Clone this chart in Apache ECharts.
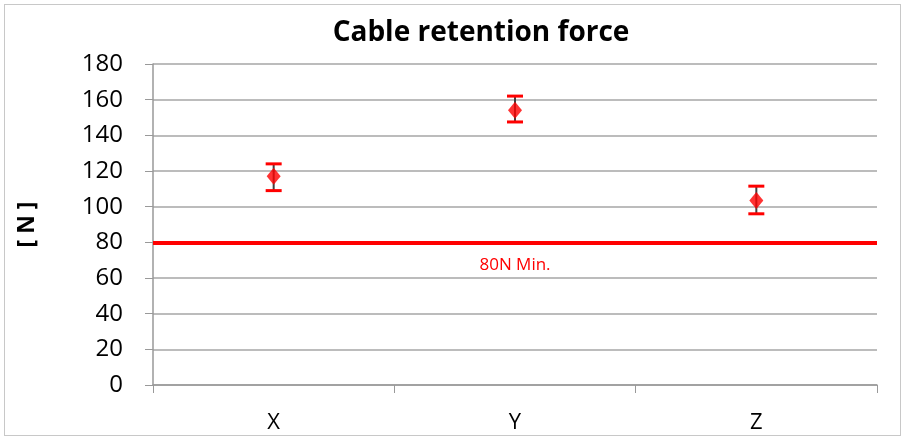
<!DOCTYPE html>
<html>
<head>
<meta charset="utf-8">
<script src="https://cdn.jsdelivr.net/npm/echarts@6/dist/echarts.min.js"></script>
<style>
  html, body { margin: 0; padding: 0; background: #fff; }
  #frame { position: absolute; left: 4px; top: 4px; width: 895px; height: 430px; border: 1px solid #c8c8c8; }
  #chart { width: 905px; height: 439px; }
</style>
</head>
<body>
<div id="frame"></div>
<div id="chart"></div>
<script>
// data
const categories = ['X', 'Y', 'Z'];
const meanForce = [117, 154, 103.5];
const lowForce = [109, 147.5, 96];
const highForce = [124, 162, 111.5];
const minForce = 80;

var dom = document.getElementById('chart');
var myChart = echarts.init(dom);

var errData = categories.map((c, i) => [i, lowForce[i], highForce[i]]);

var option = {
    animation: false,
    textStyle: { fontFamily: 'Open Sans' },
    title: {
        text: 'Cable retention force',
        left: 476,
        textAlign: 'center',
        top: 14,
        textStyle: { fontSize: 28, fontWeight: 'bold', color: '#000', fontFamily: 'Open Sans' }
    },
    grid: { left: 153, right: 28, top: 64, bottom: 54 },
    xAxis: {
        type: 'category',
        data: categories,
        boundaryGap: true,
        axisLine: { lineStyle: { color: '#999', width: 1.5 } },
        axisTick: { show: true, length: 8, lineStyle: { color: '#999' } },
        axisLabel: { color: '#000', fontSize: 22, margin: 27 }
    },
    yAxis: {
        type: 'value',
        min: 0,
        max: 180,
        interval: 20,
        name: '[ N ]',
        nameLocation: 'middle',
        nameGap: 114,
        nameTextStyle: { fontSize: 23, fontWeight: 'bold', color: '#000' },
        axisLine: { show: true, lineStyle: { color: '#999', width: 1.5 } },
        axisTick: { show: true, length: 8, lineStyle: { color: '#999' } },
        axisLabel: { color: '#000', fontSize: 24, margin: 30 },
        splitLine: { lineStyle: { color: '#a6a6a6', width: 1.5 } }
    },
    series: [
        {
            type: 'custom',
            data: errData,
            z: 3,
            renderItem: function (params, api) {
                var x = api.value(0);
                var lo = api.coord([x, api.value(1)]);
                var hi = api.coord([x, api.value(2)]);
                var w = 8;
                return {
                    type: 'group',
                    children: [
                        { type: 'line', shape: { x1: hi[0], y1: hi[1], x2: lo[0], y2: lo[1] }, style: { stroke: '#404040', lineWidth: 2 } },
                        { type: 'line', shape: { x1: hi[0] - w, y1: hi[1], x2: hi[0] + w, y2: hi[1] }, style: { stroke: '#ff0000', lineWidth: 3 } },
                        { type: 'line', shape: { x1: lo[0] - w, y1: lo[1], x2: lo[0] + w, y2: lo[1] }, style: { stroke: '#ff0000', lineWidth: 3 } }
                    ]
                };
            },
            markLine: {
                silent: true,
                symbol: 'none',
                lineStyle: { color: '#ff0000', width: 4, type: 'solid' },
                label: {
                    show: true,
                    position: 'insideMiddleBottom',
                    formatter: '80N Min.',
                    color: '#ff0000',
                    fontSize: 17,
                    distance: 14
                },
                data: [{ yAxis: minForce }]
            }
        },
        {
            type: 'scatter',
            data: meanForce,
            symbol: 'diamond',
            symbolSize: [14, 17],
            z: 4,
            itemStyle: { color: '#ff0000' }
        }
    ]
};

if (option && typeof option === 'object') {
    myChart.setOption(option);
}
</script>
</body>
</html>
